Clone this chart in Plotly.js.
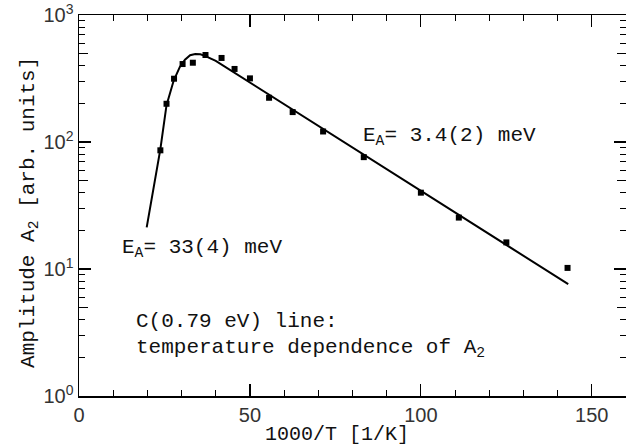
<!DOCTYPE html>
<html>
<head>
<meta charset="utf-8">
<script src="https://cdn.plot.ly/plotly-3.0.1.min.js"></script>
<style>html,body{margin:0;padding:0;background:#fff;}#chart{width:626px;height:448px;}</style>
</head>
<body>
<div id="chart"></div>
<script>
// measured data: x = 1000/T [1/K], y = amplitude A2 [arb. units]
var dataX = [23.8, 25.6, 27.8, 30.3, 33.3, 37.0, 41.7, 45.5, 50.0, 55.6, 62.5, 71.4, 83.3, 100.0, 111.1, 125.0, 142.9];
var dataY = [86, 200, 315, 411, 421, 484, 459, 376, 317, 223, 172, 121, 76, 39.9, 25.4, 16.2, 10.2];
// fit curve
var fitX = [19.8, 23.8, 25.6, 27.7, 29.5, 31.0, 32.5, 34.0, 35.5, 37.0, 40.0, 143.1];
var fitY = [21.3, 88, 195, 305, 390, 445, 482, 493, 490, 475, 435, 7.6];
// axis ticks
var xMajor = [0, 50, 100, 150];
var yMajor = [1, 10, 100, 1000];
var yMajorText = ['10<sup>0</sup>', '10<sup>1</sup>', '10<sup>2</sup>', '10<sup>3</sup>'];
var yMid = [5, 50, 500];
var yMinor = [2, 3, 4, 6, 7, 8, 9, 20, 30, 40, 60, 70, 80, 90, 200, 300, 400, 600, 700, 800, 900];
// texts
var xTitle = '1000/T [1/K]';
var yTitle = 'Amplitude A<sub>2</sub> [arb. units]';
var labelHigh = 'E<sub>A</sub>= 3.4(2) meV';
var labelLow = 'E<sub>A</sub>= 33(4) meV';
var note1 = 'C(0.79 eV) line:';
var note2 = 'temperature dependence of A<sub>2</sub>';

var mono = 'Liberation Mono, Courier New, monospace';
var sans = 'Liberation Sans, Arial, sans-serif';
var ink = '#111';

var traces = [
  {x: fitX, y: fitY, mode: 'lines', line: {color: '#000', width: 2}, hoverinfo: 'skip', showlegend: false},
  {x: dataX, y: dataY, mode: 'markers', marker: {symbol: 'square', size: 6, color: '#000'}, showlegend: false},
  {x: [0], y: [1], yaxis: 'y2', mode: 'markers', marker: {size: 0, opacity: 0}, hoverinfo: 'skip', showlegend: false}
];

var layout = {
  width: 626, height: 448,
  margin: {l: 79, r: 0, t: 15, b: 52},
  paper_bgcolor: '#fff', plot_bgcolor: '#fff',
  showlegend: false,
  xaxis: {
    range: [0, 160], tickvals: xMajor, ticks: 'inside', ticklen: 12, tickwidth: 1.2, tickcolor: '#000',
    showline: true, linewidth: 1.5, linecolor: '#000', mirror: 'ticks',
    showgrid: false, zeroline: false,
    minor: {dtick: 10, ticks: 'inside', ticklen: 6, tickwidth: 1, tickcolor: '#000', showgrid: false},
    tickfont: {family: sans, size: 20, color: '#333'}
  },
  yaxis: {
    type: 'log', range: [0, 3], tickvals: yMajor, ticktext: yMajorText,
    ticks: 'inside', ticklen: 12, tickwidth: 1.2, tickcolor: '#000',
    showline: true, linewidth: 1.5, linecolor: '#000', mirror: 'ticks',
    showgrid: false, zeroline: false,
    minor: {tickvals: yMinor, ticks: 'inside', ticklen: 6, tickwidth: 1, tickcolor: '#000', showgrid: false},
    tickfont: {family: sans, size: 20, color: '#333'}
  },
  yaxis2: {
    type: 'log', range: [0, 3], overlaying: 'y', side: 'left',
    tickvals: yMid, ticks: 'inside', ticklen: 9, tickwidth: 1, tickcolor: '#000',
    showticklabels: false, showline: false, mirror: 'ticks', showgrid: false, zeroline: false
  },
  annotations: [
    {xref: 'paper', yref: 'paper', x: 0.4717, y: -0.135, xanchor: 'center', yanchor: 'bottom', showarrow: false,
     borderpad: 0, text: xTitle, font: {family: mono, size: 20, color: ink}},
    {xref: 'paper', yref: 'paper', x: -0.0896, y: 0.483, xanchor: 'center', yanchor: 'middle', showarrow: false,
     textangle: -90, text: yTitle, font: {family: mono, size: 21, color: ink}},
    {xref: 'x', yref: 'y', x: 82.5, y: Math.log10(111), xanchor: 'left', yanchor: 'middle', showarrow: false,
     text: labelHigh, font: {family: mono, size: 21, color: ink}},
    {xref: 'x', yref: 'y', x: 12, y: Math.log10(14.4), xanchor: 'left', yanchor: 'middle', showarrow: false,
     text: labelLow, font: {family: mono, size: 21, color: ink}},
    {xref: 'x', yref: 'y', x: 16, y: Math.log10(3.83), xanchor: 'left', yanchor: 'middle', showarrow: false,
     text: note1, font: {family: mono, size: 21, color: ink}},
    {xref: 'x', yref: 'y', x: 16, y: Math.log10(2.35), xanchor: 'left', yanchor: 'middle', showarrow: false,
     text: note2, font: {family: mono, size: 21, color: ink}}
  ]
};

Plotly.newPlot('chart', traces, layout, {staticPlot: true, displayModeBar: false});
</script>
</body>
</html>
